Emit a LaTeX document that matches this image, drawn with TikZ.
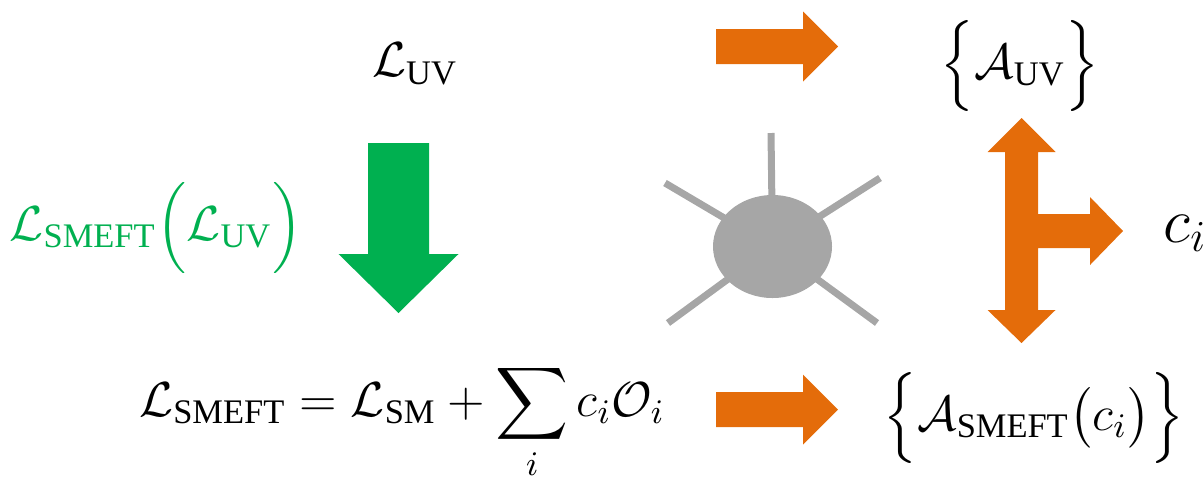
\RequirePackage{fix-cm}
\documentclass[tikz,border=0pt]{standalone}
\usepackage{amsmath}
\usepackage{fontspec}
\setmainfont{Liberation Serif}
\usetikzlibrary{shapes.geometric}
\definecolor{cgreen}{HTML}{00B050}
\definecolor{corange}{HTML}{E46C0A}
\definecolor{cgrey}{HTML}{A6A6A6}
\tikzset{
  lbl/.style={inner sep=0pt, font=\fontsize{14}{17}\selectfont},
  leg/.style={draw=cgrey, line width=0.07cm},
}

\begin{document}
\begin{tikzpicture}[blob/.style={ellipse, fill=cgrey, minimum width=1.19cm, minimum height=1.03cm, inner sep=0pt}]
  \useasboundingbox (0,0) rectangle (12.04,4.78);
  % lagrangians
  \node[lbl] (luv) at (4.15,4.14) {$\mathcal{L}_{\text{UV}}$};
  \node[lbl, text=cgreen] (match) at (1.56,2.50) {$\mathcal{L}_{\text{SMEFT}}\Bigl(\mathcal{L}_{\text{UV}}\Bigr)$};
  \node[lbl, anchor=base] (eft) at (4.02,0.62) {$\displaystyle\mathcal{L}_{\text{SMEFT}} = \mathcal{L}_{\text{SM}} + \sum_i c_i\mathcal{O}_i$};
  % amplitudes
  \node[lbl] (auv) at (10.20,4.12) {$\Bigl\{\mathcal{A}_{\text{UV}}\Bigr\}$};
  \node[lbl] (aeft) at (10.34,0.60) {$\Bigl\{\mathcal{A}_{\text{SMEFT}}\bigl(c_i\bigr)\Bigr\}$};
  \node[lbl, font=\fontsize{18}{21}\selectfont, anchor=base west] (ci) at (11.63,2.36) {$c_i$};
  % block arrows
  \fill[cgreen] (3.68,3.35) -- (3.68,2.24) -- (3.385,2.24) -- (3.985,1.65) -- (4.585,2.24) -- (4.29,2.24) -- (4.29,3.35) -- cycle;
  \foreach \y in {4.315,0.685}
    \fill[corange] (7.16,\y) ++(0,-0.175) -- ++(0.87,0) -- ++(0,-0.175) -- ++(0.35,0.35) -- ++(-0.35,0.35) -- ++(0,-0.175) -- ++(-0.87,0) -- cycle;
  \fill[corange] (10.05,3.26) -- (9.875,3.26) -- (10.215,3.60) -- (10.555,3.26) -- (10.38,3.26) -- (10.38,2.64)
    -- (10.90,2.64) -- (10.90,2.81) -- (11.23,2.47) -- (10.90,2.13) -- (10.90,2.30) -- (10.38,2.30)
    -- (10.38,1.68) -- (10.555,1.68) -- (10.215,1.35) -- (9.875,1.68) -- (10.05,1.68) -- cycle;
  % vertex
  \coordinate (vtx) at (7.725,2.315);
  \foreach \x/\y in {7.71/3.45, 6.65/2.95, 8.80/3.00, 6.68/1.55, 8.77/1.55}
    \draw[leg] (vtx) -- (\x,\y);
  \node[blob] (blobnode) at (vtx) {};
\end{tikzpicture}
\end{document}
